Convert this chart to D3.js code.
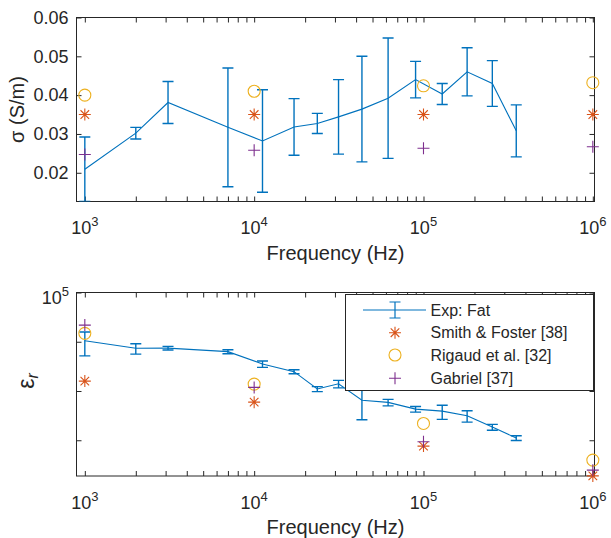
<!DOCTYPE html>
<html><head><meta charset="utf-8">
<script src="https://cdn.jsdelivr.net/npm/d3@7"></script>
<style>
body{margin:0;background:#fff}
svg{display:block}
text{font-family:"Liberation Sans",Arial,Helvetica,sans-serif;fill:#262626}
</style>
</head><body>
<svg id="c" width="611" height="538"></svg>
<script>
// ---------- data ----------
const freqs = [1000, 2000, 3100, 7000, 11200, 17200, 23600, 31500, 43300, 61800, 89800, 129000, 181000, 255000, 353000];
const sigmaMean = [0.0209, 0.0302, 0.0381, 0.0317, 0.0282, 0.0318, 0.0327, 0.0344, 0.0364, 0.0392, 0.0440, 0.0403, 0.0460, 0.0430, 0.0308];
const sigmaErr  = [0.0083, 0.0015, 0.0054, 0.0153, 0.0132, 0.0073, 0.0026, 0.0096, 0.0136, 0.0155, 0.0047, 0.0027, 0.0062, 0.0059, 0.0067];
const epsMean = [10470, 7360, 7420, 6300, 3540, 2470, 1100, 1400, 650, 588, 429, 390, 315, 185, 111];
const epsErr  = [5300, 1740, 640, 590, 515, 230, 127, 245, 390, 88, 57, 125, 82, 25, 12];

const refFreqs = [1e3, 1e4, 1e5, 1e6];
const smithSigma   = [0.0350, 0.0350, 0.0350, 0.0350];
const rigaudSigma  = [0.0400, 0.0410, 0.0424, 0.0432];
const gabrielSigma = [0.0247, 0.0258, 0.0263, 0.0267];
const smithEps   = [1590, 594, 76, 18.9];
const rigaudEps  = [14800, 1380, 219, 39.5];
const gabrielEps = [21800, 1183, 93, 24.7];

const xMajor = [1e3, 1e4, 1e5, 1e6];
const xMinor = [2e3,3e3,4e3,5e3,6e3,7e3,8e3,9e3,2e4,3e4,4e4,5e4,6e4,7e4,8e4,9e4,2e5,3e5,4e5,5e5,6e5,7e5,8e5,9e5];
const sigmaTicks = [0.02, 0.03, 0.04, 0.05, 0.06];
const epsTicks = [1e2, 1e3, 1e4, 1e5];
const epsTickLabels = [1e5];
const legendLabels = ["Exp: Fat", "Smith & Foster [38]", "Rigaud et al. [32]", "Gabriel [37]"];

// ---------- layout ----------
const C = {blue:"#0072BD", orange:"#D95319", yellow:"#EDB120", purple:"#7E2F8E", axis:"#262626"};
const svg = d3.select("#c");
const X0 = 76.5, X1 = 594.5;
const x = d3.scaleLog().domain([893, 1.023e6]).range([X0, X1]);

const panels = [
  {top:17.5, bot:201.5, y:d3.scaleLinear().domain([0.0126, 0.06]).range([201.5, 17.5]),
   mean:sigmaMean, err:sigmaErr, smith:smithSigma, rigaud:rigaudSigma, gabriel:gabrielSigma, id:"p1"},
  {top:292.5, bot:476, y:d3.scaleLog().domain([18.8, 1e5]).range([476, 292.5]),
   mean:epsMean, err:epsErr, smith:smithEps, rigaud:rigaudEps, gabriel:gabrielEps, id:"p2"}
];

function starPath(cx, cy){ const s=6, d=4.3;
  return `M${cx-s},${cy}h${2*s}M${cx},${cy-s}v${2*s}M${cx-d},${cy-d}l${2*d},${2*d}M${cx-d},${cy+d}l${2*d},${-2*d}`; }
function plusPath(cx, cy){ const s=6; return `M${cx-s},${cy}h${2*s}M${cx},${cy-s}v${2*s}`; }

function styleAxis(g){
  g.select(".domain").remove();
  g.selectAll(".tick line").attr("stroke", C.axis).attr("stroke-width", 1);
}

panels.forEach((p, pi) => {
  const g = svg.append("g");
  svg.append("clipPath").attr("id", "clip"+p.id).append("rect")
    .attr("x", X0).attr("y", p.top).attr("width", X1-X0).attr("height", p.bot-p.top);

  const bx = g.append("g").attr("transform", `translate(0,${p.bot})`)
    .call(d3.axisBottom(x).tickValues(xMajor.concat(xMinor)).tickSizeInner(-5).tickSizeOuter(0).tickFormat(""));
  styleAxis(bx);
  const tx = g.append("g").attr("transform", `translate(0,${p.top})`)
    .call(d3.axisTop(x).tickValues(xMajor.concat(xMinor)).tickSizeInner(-5).tickSizeOuter(0).tickFormat(""));
  styleAxis(tx);

  const yt = pi === 0 ? sigmaTicks : epsTicks;
  const ly = g.append("g").attr("transform", `translate(${X0},0)`)
    .call(d3.axisLeft(p.y).tickValues(yt).tickSizeInner(-5).tickSizeOuter(0).tickPadding(8)
      .tickFormat(pi === 0 ? d3.format(".2f") : ""));
  styleAxis(ly);
  ly.selectAll("text").attr("font-size", 18).attr("fill", C.axis)
    .attr("font-family", '"Liberation Sans",Arial,Helvetica,sans-serif');
  const ry = g.append("g").attr("transform", `translate(${X1},0)`)
    .call(d3.axisRight(p.y).tickValues(yt).tickSizeInner(-5).tickSizeOuter(0).tickFormat(""));
  styleAxis(ry);

  g.append("rect").attr("x", X0).attr("y", p.top).attr("width", X1-X0).attr("height", p.bot-p.top)
    .attr("fill", "none").attr("stroke", C.axis).attr("stroke-width", 1);

  xMajor.forEach(v => {
    const t = g.append("text").attr("x", x(v)).attr("y", p.bot + 32.5).attr("text-anchor", "middle");
    t.append("tspan").attr("font-size", 18).text("10");
    t.append("tspan").attr("font-size", 13).attr("dy", -8).text(String(Math.round(Math.log10(v))));
  });
  if (pi === 1) {
    epsTickLabels.forEach(v => {
      const t = g.append("text").attr("x", 69).attr("y", p.y(v) + 11).attr("text-anchor", "end");
      t.append("tspan").attr("font-size", 18).text("10");
      t.append("tspan").attr("font-size", 13).attr("dy", -8).text(String(Math.round(Math.log10(v))));
    });
  }

  g.append("text").attr("x", 335.5).attr("y", p.bot + 58).attr("text-anchor", "middle")
    .attr("font-size", 20).text("Frequency (Hz)");

  const ds = freqs.map((f, i) => ({f, m:p.mean[i], e:p.err[i]}));
  const cg = g.append("g").attr("clip-path", `url(#clip${p.id})`);
  cg.append("path").datum(ds)
    .attr("d", d3.line().x(d => x(d.f)).y(d => p.y(d.m)))
    .attr("fill", "none").attr("stroke", C.blue).attr("stroke-width", 1.1);
  const eb = cg.selectAll("g.eb").data(ds).join("g").attr("class", "eb")
    .attr("stroke", C.blue).attr("stroke-width", 1.4).attr("fill", "none");
  eb.append("path").attr("d", d => {
    const cx = x(d.f), y1 = p.y(d.m + d.e), y2 = p.y(d.m - d.e), w = 5.5;
    return `M${cx},${y1}V${y2}M${cx-w},${y1}H${cx+w}M${cx-w},${y2}H${cx+w}`;
  });

  const mg = g.append("g").attr("fill", "none").attr("stroke-width", 1.1);
  refFreqs.forEach((f, i) => {
    mg.append("path").attr("d", starPath(x(f), p.y(p.smith[i]))).attr("stroke", C.orange);
    mg.append("circle").attr("cx", x(f)).attr("cy", p.y(p.rigaud[i])).attr("r", 6).attr("stroke", C.yellow);
    mg.append("path").attr("d", plusPath(x(f), p.y(p.gabriel[i]))).attr("stroke", C.purple);
  });
});

const yl1 = svg.append("text").attr("transform", "translate(24,109.5) rotate(-90)")
  .attr("text-anchor", "middle").attr("font-size", 20);
yl1.append("tspan").text("\u03C3 (S/m)");
const yl2 = svg.append("text").attr("transform", "translate(34,381) rotate(-90)")
  .attr("text-anchor", "middle").attr("font-size", 23);
yl2.append("tspan").text("\u03B5");
yl2.append("tspan").attr("font-size", 16).attr("font-style", "italic").attr("dy", 4).text("r");

const lg = svg.append("g");
lg.append("rect").attr("x", 345.5).attr("y", 294.5).attr("width", 248).attr("height", 96)
  .attr("fill", "#fff").attr("stroke", C.axis).attr("stroke-width", 1);
const rowY = [310, 332.7, 355, 378.3];
const mx = 395;
lg.append("path").attr("d", `M363,${rowY[0]}H426M${mx},${rowY[0]-8}V${rowY[0]+8}M${mx-5.5},${rowY[0]-8}H${mx+5.5}M${mx-5.5},${rowY[0]+8}H${mx+5.5}`)
  .attr("stroke", C.blue).attr("stroke-width", 1.2).attr("fill", "none");
lg.append("path").attr("d", starPath(mx, rowY[1])).attr("stroke", C.orange).attr("fill", "none").attr("stroke-width", 1.1);
lg.append("circle").attr("cx", mx).attr("cy", rowY[2]).attr("r", 6).attr("stroke", C.yellow).attr("fill", "none").attr("stroke-width", 1.1);
lg.append("path").attr("d", plusPath(mx, rowY[3])).attr("stroke", C.purple).attr("fill", "none").attr("stroke-width", 1.1);
legendLabels.forEach((s, i) => {
  lg.append("text").attr("x", 430.5).attr("y", rowY[i]).attr("dy", "0.36em")
    .attr("font-size", 16).attr("fill", "#000").text(s);
});
</script>
</body></html>
